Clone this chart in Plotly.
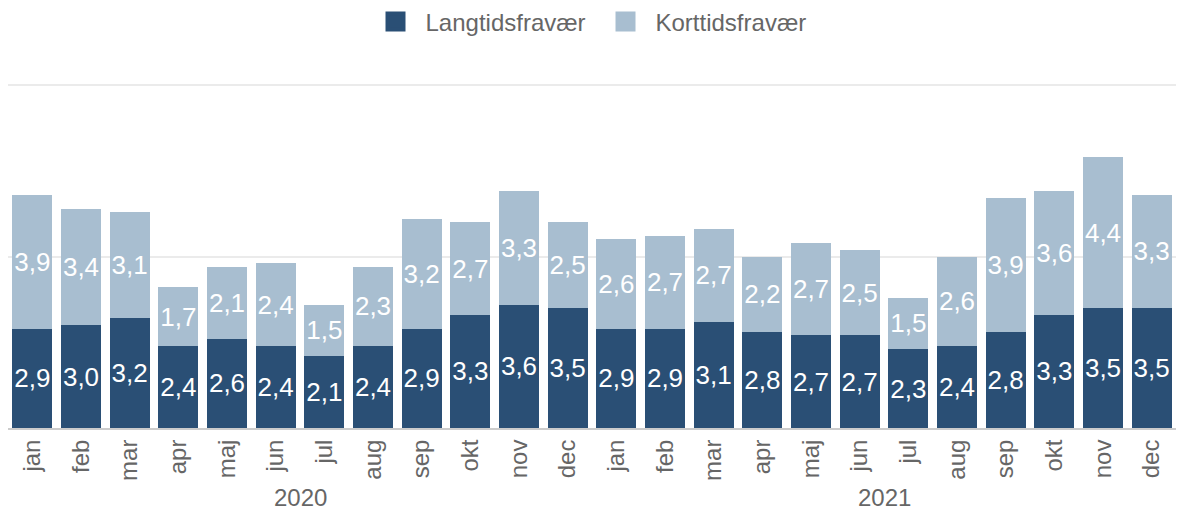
import plotly.graph_objects as go

months = ["jan", "feb", "mar", "apr", "maj", "jun", "jul", "aug", "sep", "okt", "nov", "dec"]
years = ["2020", "2021"]

lang_2020 = [2.9, 3.0, 3.2, 2.4, 2.6, 2.4, 2.1, 2.4, 2.9, 3.3, 3.6, 3.5]
kort_2020 = [3.9, 3.4, 3.1, 1.7, 2.1, 2.4, 1.5, 2.3, 3.2, 2.7, 3.3, 2.5]
lang_2021 = [2.9, 2.9, 3.1, 2.8, 2.7, 2.7, 2.3, 2.4, 2.8, 3.3, 3.5, 3.5]
kort_2021 = [2.6, 2.7, 2.7, 2.2, 2.7, 2.5, 1.5, 2.6, 3.9, 3.6, 4.4, 3.3]

series_names = ["Langtidsfravær", "Korttidsfravær"]
colors = ["#2a4f75", "#a8bed0"]

# unique category keys, displayed with month tick text
x_keys = [f"{m} {y}" for y in years for m in months]
tick_text = months * len(years)

lang = lang_2020 + lang_2021
kort = kort_2020 + kort_2021

font_family = "Liberation Sans, Arial, sans-serif"
grey = "#666666"

fig = go.Figure()
for name, vals, col in zip(series_names, [lang, kort], colors):
    fig.add_trace(go.Bar(
        x=x_keys, y=vals, name=name, marker=dict(color=col, line=dict(width=0)),
        texttemplate="%{y:.1f}", textposition="inside", insidetextanchor="middle",
        textangle=0, constraintext="none",
        textfont=dict(color="white", size=26, family=font_family),
        showlegend=False, hoverinfo="skip",
    ))

for name, col in zip(series_names, colors):
    fig.add_trace(go.Scatter(
        x=[x_keys[0]], y=[None], mode="markers", name=name,
        marker=dict(symbol="square", size=16, color=col, line=dict(color=col, width=4)),
        showlegend=True,
    ))

# year labels centred under each group of months
n = len(months)
for i, yr in enumerate(years):
    fig.add_annotation(
        x=i * n + (n - 1) / 2, xref="x", y=-(497 - 428) / (428 - 84), yref="paper",
        yanchor="middle", text=yr, showarrow=False, height=24, borderpad=0,
        font=dict(size=24, color=grey, family=font_family),
    )

fig.update_layout(
    barmode="stack",
    bargap=0.178,
    separators=",.",
    width=1178, height=509,
    margin=dict(l=8, r=2, t=84, b=81, autoexpand=False),
    paper_bgcolor="white", plot_bgcolor="white",
    font=dict(family=font_family, color=grey, size=24),
    legend=dict(orientation="h", x=0.503, xanchor="center", yref="container",
                y=1 - 22 / 509, yanchor="middle", font=dict(size=24, color=grey),
                itemwidth=50, traceorder="normal",
                entrywidth=165, entrywidthmode="pixels"),
    xaxis=dict(type="category", tickangle=-90, tickmode="array",
               tickvals=x_keys, ticktext=tick_text, range=[-0.5, len(x_keys) - 0.5],
               tickfont=dict(size=24, color=grey), showgrid=False, automargin=False,
               showline=True, linecolor="#cccccc", linewidth=2, ticks=""),
    yaxis=dict(range=[0, 10.03], tickvals=[0, 5, 10], showticklabels=False,
               showgrid=True, gridcolor="#ebebeb", gridwidth=2, zeroline=False,
               automargin=False),
)

fig.write_html("out.html", config={"displayModeBar": False},
               post_script="document.body.style.margin='0';")
